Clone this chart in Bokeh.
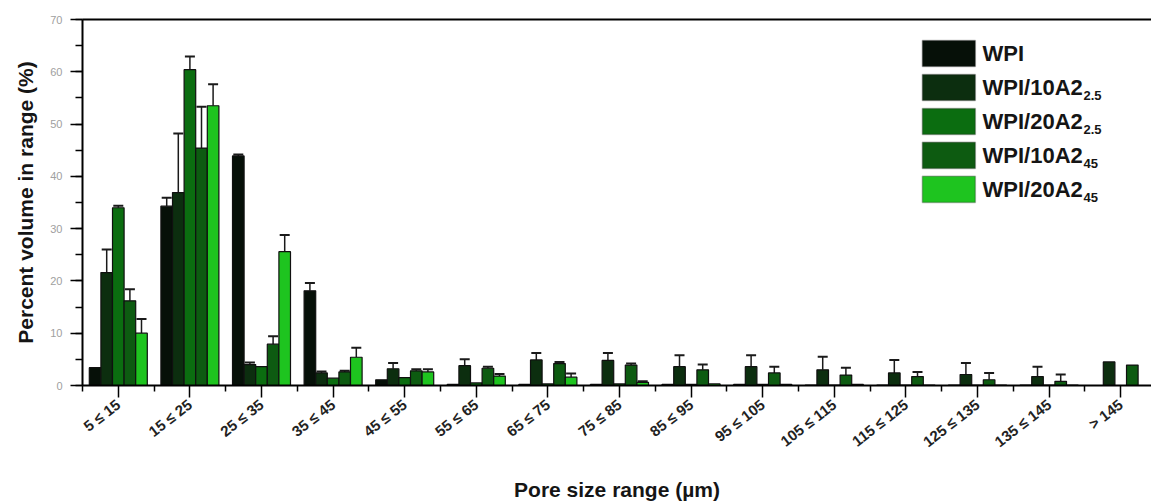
from bokeh.plotting import figure
from bokeh.models import (Range1d, FixedTicker, LinearAxis, Whisker, TeeHead,
                          ColumnDataSource, Label, BoxAnnotation)
from bokeh.transform import dodge
from bokeh.embed import file_html
from bokeh.resources import INLINE

# Pore size classes (µm)
categories = ["5 ≤ 15", "15 ≤ 25", "25 ≤ 35", "35 ≤ 45", "45 ≤ 55", "55 ≤ 65",
              "65 ≤ 75", "75 ≤ 85", "85 ≤ 95", "95 ≤ 105", "105 ≤ 115",
              "115 ≤ 125", "125 ≤ 135", "135 ≤ 145", "> 145"]

# Percent volume in each range, and upper standard deviation
wpi = [3.4, 34.3, 43.9, 18.1, 1.1, 0.2, 0.2, 0.2, 0.2, 0.2, 0.1, 0.1, 0.1, 0.1, 0.0]
wpi_err = [0.0, 1.6, 0.3, 1.5, 0.0, 0.0, 0.0, 0.0, 0.0, 0.0, 0.0, 0.0, 0.0, 0.0, 0.0]

wpi_10a2_25 = [21.6, 36.9, 4.0, 2.4, 3.2, 3.8, 4.9, 4.8, 3.6, 3.6, 3.0, 2.4, 2.1, 1.7, 4.5]
wpi_10a2_25_err = [4.4, 11.3, 0.4, 0.3, 1.1, 1.2, 1.3, 1.4, 2.2, 2.2, 2.5, 2.5, 2.2, 1.9, 0.0]

wpi_20a2_25 = [34.0, 60.4, 3.6, 1.4, 1.5, 0.5, 0.3, 0.3, 0.2, 0.2, 0.1, 0.1, 0.1, 0.1, 0.0]
wpi_20a2_25_err = [0.4, 2.5, 0.0, 0.0, 0.0, 0.0, 0.0, 0.0, 0.0, 0.0, 0.0, 0.0, 0.0, 0.0, 0.0]

wpi_10a2_45 = [16.2, 45.4, 7.9, 2.6, 2.8, 3.3, 4.2, 3.9, 3.0, 2.4, 2.0, 1.7, 1.1, 0.8, 3.9]
wpi_10a2_45_err = [2.2, 7.9, 1.5, 0.2, 0.3, 0.3, 0.3, 0.3, 1.0, 1.2, 1.4, 0.9, 1.3, 1.3, 0.0]

wpi_20a2_45 = [10.0, 53.5, 25.6, 5.4, 2.6, 1.8, 1.6, 0.6, 0.3, 0.2, 0.2, 0.1, 0.1, 0.1, 0.0]
wpi_20a2_45_err = [2.7, 4.1, 3.2, 1.8, 0.5, 0.4, 0.7, 0.2, 0.0, 0.0, 0.0, 0.0, 0.0, 0.0, 0.0]

series_names = [("WPI", ""), ("WPI/10A2", "2.5"), ("WPI/20A2", "2.5"),
                ("WPI/10A2", "45"), ("WPI/20A2", "45")]
series_values = [wpi, wpi_10a2_25, wpi_20a2_25, wpi_10a2_45, wpi_20a2_45]
series_errors = [wpi_err, wpi_10a2_25_err, wpi_20a2_25_err, wpi_10a2_45_err, wpi_20a2_45_err]
colors = ["#061008", "#0c2e0f", "#0b6d10", "#0d5b11", "#1ec41f"]

FONT = "Liberation Sans"
n = len(categories)
positions = [i + 0.5 for i in range(n)]
bar_w = 0.162

p = figure(width=1151, height=503, output_backend="svg", toolbar_location=None,
           x_range=Range1d(0, 14.93), y_range=Range1d(0, 70),
           min_border_left=82, min_border_right=0, min_border_top=19,
           min_border_bottom=112, background_fill_color="white",
           border_fill_color="white")
p.outline_line_color = None
p.xgrid.visible = False
p.ygrid.visible = False

for k, (vals, errs, col) in enumerate(zip(series_values, series_errors, colors)):
    off = (k - 2) * bar_w
    src = ColumnDataSource(dict(pos=positions, top=vals))
    p.vbar(x=dodge("pos", off), top="top", width=bar_w, source=src,
           fill_color=col, line_color="#101010", line_width=1.2)
    keep = [i for i in range(n) if errs[i] > 0]
    esrc = ColumnDataSource(dict(pos=[positions[i] for i in keep],
                                 lower=[vals[i] for i in keep],
                                 upper=[vals[i] + errs[i] for i in keep]))
    w = Whisker(base=dodge("pos", off), lower="lower", upper="upper", source=esrc,
                dimension="height", line_color="#1a1a1a", line_width=1.5,
                upper_head=TeeHead(size=10, line_color="#1a1a1a", line_width=2),
                lower_head=None)
    p.add_layout(w)

# bottom axis: class labels at group centres, minor ticks at class edges
xa = p.xaxis[0]
xa.ticker = FixedTicker(ticks=positions, minor_ticks=list(range(n + 1)))
xa.major_label_overrides = {pos: lab for pos, lab in zip(positions, categories)}
xa.major_label_orientation = 0.66
xa.major_label_text_font = FONT
xa.major_label_text_font_style = "bold"
xa.major_label_text_font_size = "15px"
xa.major_label_text_color = "#222222"
xa.major_label_standoff = 5
xa.major_tick_in = 0
xa.major_tick_out = 12
xa.minor_tick_in = 0
xa.minor_tick_out = 6
xa.axis_line_width = 2
xa.major_tick_line_width = 1.5
xa.minor_tick_line_width = 1.5
xa.axis_label = "Pore size range (µm)"
xa.axis_label_text_font = FONT
xa.axis_label_text_font_style = "bold"
xa.axis_label_text_font_size = "21px"
xa.axis_label_text_color = "#151515"
xa.axis_label_standoff = 18

ya = p.yaxis[0]
ya.ticker = FixedTicker(ticks=list(range(0, 71, 10)), minor_ticks=list(range(0, 71, 5)))
ya.major_label_text_font = FONT
ya.major_label_text_font_size = "11px"
ya.major_label_text_color = "#a0a0a0"
ya.major_label_standoff = 8
ya.major_tick_in = 0
ya.major_tick_out = 12
ya.minor_tick_in = 0
ya.minor_tick_out = 7
ya.axis_line_width = 2
ya.major_tick_line_width = 1.5
ya.minor_tick_line_width = 1.5
ya.axis_label = "Percent volume in range (%)"
ya.axis_label_text_font = FONT
ya.axis_label_text_font_style = "bold"
ya.axis_label_text_font_size = "21px"
ya.axis_label_text_color = "#151515"
ya.axis_label_standoff = 10

# top frame line
top_axis = LinearAxis(ticker=FixedTicker(ticks=[]), major_label_text_font_size="0px",
                      major_tick_out=0, minor_tick_out=0, axis_line_width=2)
p.add_layout(top_axis, "above")

# legend with subscripted sample names
leg_top = 63.5
leg_step = 6.5
for k, ((main, sub), col) in enumerate(zip(series_names, colors)):
    yc = leg_top - k * leg_step
    p.add_layout(BoxAnnotation(left=11.73, right=12.47, bottom=yc - 2.5, top=yc + 2.5,
                               fill_color=col, fill_alpha=1.0,
                               line_color="#202020", line_width=1.5))
    p.add_layout(Label(x=12.57, y=yc, text=main, text_font=FONT,
                       text_font_style="bold", text_font_size="22px",
                       text_baseline="middle", text_color="#151515"))
    if sub:
        p.add_layout(Label(x=12.57, y=yc, x_offset=101, y_offset=-8, text=sub,
                           text_font=FONT, text_font_style="bold",
                           text_font_size="13px", text_baseline="middle",
                           text_color="#151515"))

open("out.html", "w").write(file_html(p, INLINE))
